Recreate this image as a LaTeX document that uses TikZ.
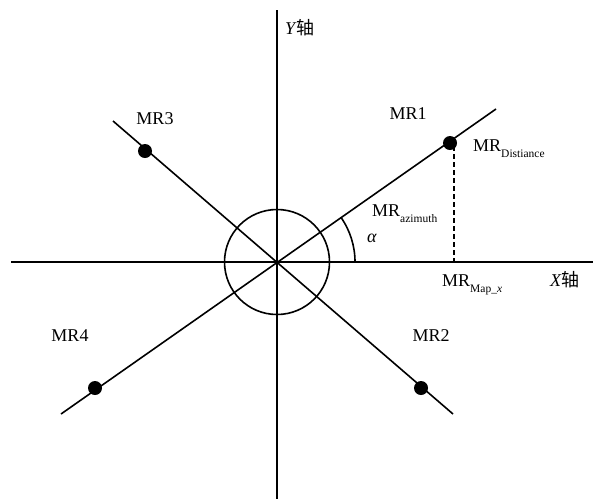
\documentclass[tikz,border=0pt]{standalone}
\usepackage{fontspec}
\usetikzlibrary{calc}
\setmainfont{Liberation Serif}
\newfontfamily\cjkfont{Noto Sans CJK SC}
\newcommand{\mrlabel}[1]{MR\raisebox{-6pt}{\fontsize{11.5}{12}\selectfont #1}}
\begin{document}
\begin{tikzpicture}[x=1pt,y=-1pt,
  ln/.style={line width=1.6pt},
  dotnode/.style={circle,fill=black,inner sep=0pt,minimum size=14pt},
  lbl/.style={inner sep=0pt,font=\fontsize{18}{20}\selectfont},
  lblb/.style={inner sep=0pt,anchor=base west,font=\fontsize{18}{20}\selectfont}]
\useasboundingbox (0,0) rectangle (593,499);
\coordinate (O) at (277,262);
\coordinate (xl) at (11,262);
\coordinate (xr) at (593,262);
\coordinate (yt) at (277,10);
\coordinate (yb) at (277,499);
\coordinate (e1) at (496,109);
\coordinate (e4) at (61,414);
\coordinate (e3) at (113,121);
\coordinate (e2) at (453,414);
\coordinate (dtop) at (454,146);
\coordinate (foot) at (454,262);
\coordinate (arcstart) at (355,262);
% axes
\draw[ln] (xl) -- (xr);
\draw[ln] (yt) -- (yb);
% diagonal lines
\draw[ln] (e4) -- (e1);
\draw[ln] (e3) -- (e2);
% circle
\draw[ln] (O) circle[radius=52.5];
% angle arc
\draw[ln] (arcstart) arc[start angle=0,end angle=-35,radius=78];
% dots
\node[dotnode] (d1) at (450,143) {};
\node[dotnode] (d2) at (421,388) {};
\node[dotnode] (d3) at (145,151) {};
\node[dotnode] (d4) at (95,388) {};
% dashed
\draw[ln,dash pattern=on 5pt off 3pt] (dtop) -- (foot);
% labels
\node[lbl] (l1) at (408,114) {MR1};
\node[lbl] (l2) at (431,336) {MR2};
\node[lbl] (l3) at (155,119) {MR3};
\node[lbl] (l4) at (70,336) {MR4};
\node[lblb] (ld) at (473,151) {\mrlabel{Distiance}};
\node[lblb] (la) at (372,216) {\mrlabel{azimuth}};
\node[lblb] (lm) at (442,286) {\mrlabel{Map\_\textit{x}}};
\node[lbl] (alpha) at (372,238) {\textit{α}};
\node[lblb] (ylab) at (285,34) {\textit{Y}{\cjkfont 轴}};
\node[lblb] (xlab) at (550,286) {\textit{X}{\cjkfont 轴}};
\end{tikzpicture}
\end{document}
